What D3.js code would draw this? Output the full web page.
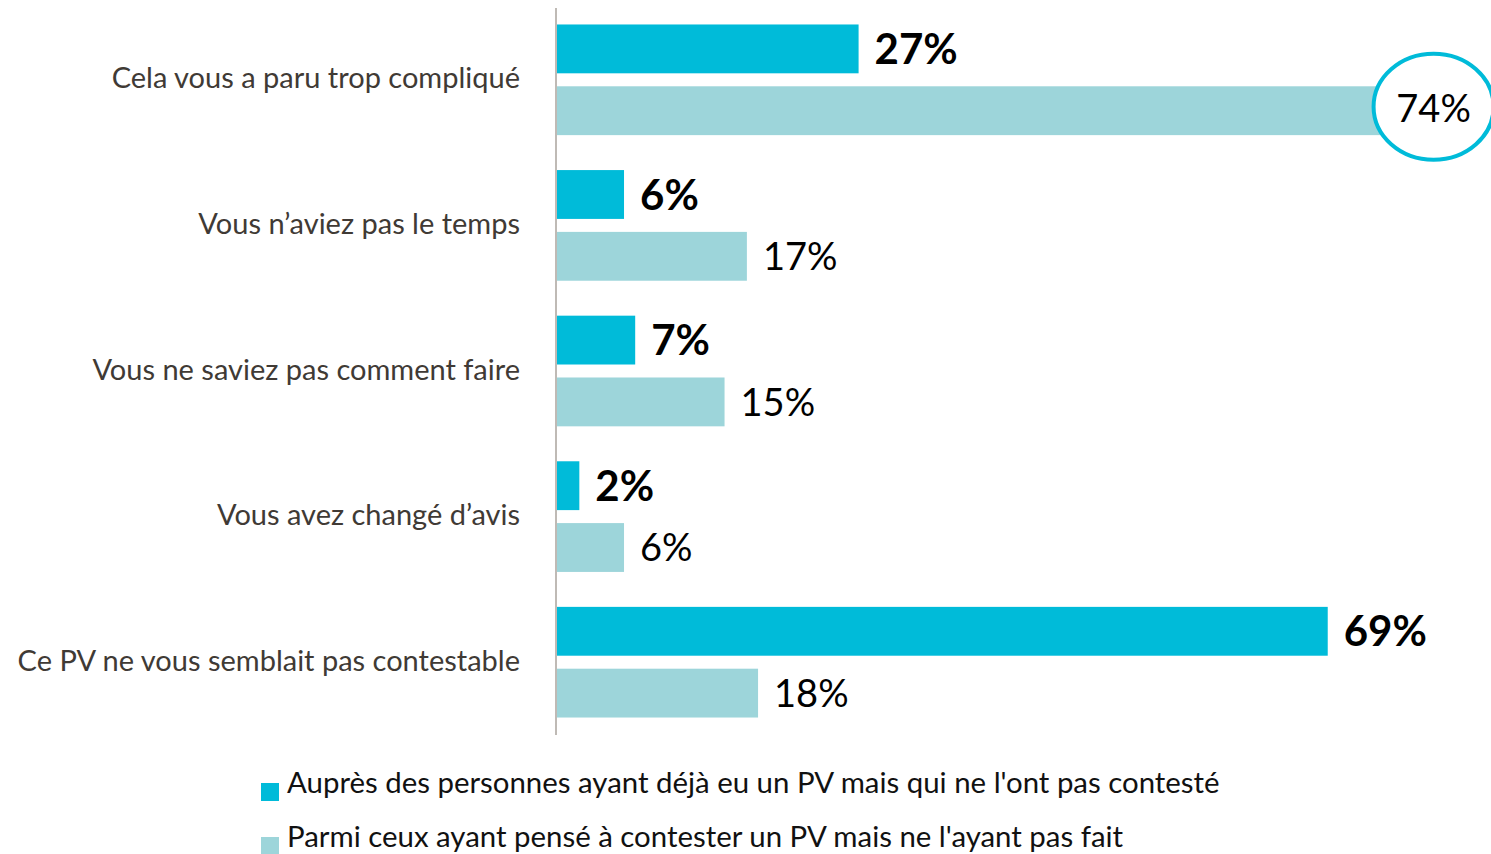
<!DOCTYPE html>
<html lang="fr">
<head>
<meta charset="UTF-8">
<title>Raisons de ne pas contester</title>
<script src="https://d3js.org/d3.v7.min.js"></script>
<style>
    body{
        margin: 0;
        background: #fff;
    }
    .cat{
        font-family: Lato, "Open Sans", sans-serif;
        font-size: 29px;
        fill: #403a35;
    }
    .val{
        font-family: Lato, "Open Sans", sans-serif;
        fill: #000;
    }
    .legendTxt{
        font-family: Lato, "Open Sans", sans-serif;
        font-size: 29.4px;
        fill: #111;
    }
</style>
</head>
<body>
<script>
var width = 1491;
var height = 854;

// données
var categories = [
    "Cela vous a paru trop compliqué",
    "Vous n’aviez pas le temps",
    "Vous ne saviez pas comment faire",
    "Vous avez changé d’avis",
    "Ce PV ne vous semblait pas contestable"
];
var seriesNames = [
    "Auprès des personnes ayant déjà eu un PV mais qui ne l'ont pas contesté",
    "Parmi ceux ayant pensé à contester un PV mais ne l'ayant pas fait"
];
var valuesA = [27, 6, 7, 2, 69];
var valuesB = [74, 17, 15, 6, 18];
var colors = ["#00bbd9", "#9dd5da"];
var highlight = 0; // index mis en avant (cercle) pour la série B

var svg = d3.select("body").append("svg")
    .attr("width", width)
    .attr("height", height);

// échelles
var x = d3.scaleLinear().domain([0, 100]).range([557, 1674]);
var y = d3.scaleBand().domain(categories).range([7, 735]).paddingInner(0.24).paddingOuter(0.12);
var ySub = d3.scaleBand().domain([0, 1]).range([0, y.bandwidth()]).paddingInner(0.21);

var rows = categories.map(function(c, i){
    return {cat: c, vals: [valuesA[i], valuesB[i]], idx: i};
});

// axe vertical
svg.append("line")
    .attr("x1", 556).attr("x2", 556)
    .attr("y1", 8).attr("y2", 735)
    .attr("stroke", "#bfbab5")
    .attr("stroke-width", 2);

var g = svg.selectAll(".row").data(rows).enter()
    .append("g").attr("class", "row")
    .attr("transform", function(d){ return "translate(0," + y(d.cat) + ")"; });

// libellés catégories
g.append("text")
    .attr("class", "cat")
    .attr("x", 520)
    .attr("y", y.bandwidth() / 2)
    .attr("dy", "0.3em")
    .attr("text-anchor", "end")
    .text(function(d){ return d.cat; });

var bars = g.selectAll(".bar")
    .data(function(d){ return d.vals.map(function(v, s){ return {v: v, s: s, idx: d.idx}; }); })
    .enter();

bars.append("rect")
    .attr("class", "bar")
    .attr("x", x(0))
    .attr("y", function(d){ return ySub(d.s); })
    .attr("width", function(d){ return x(d.v) - x(0); })
    .attr("height", ySub.bandwidth())
    .attr("fill", function(d){ return colors[d.s]; });

// étiquettes de valeurs (sauf la valeur entourée)
bars.filter(function(d){ return !(d.s === 1 && d.idx === highlight); })
    .append("text")
    .attr("class", "val")
    .attr("x", function(d){ return x(d.v) + 16; })
    .attr("y", function(d){ return ySub(d.s) + ySub.bandwidth() / 2; })
    .attr("dy", "0.36em")
    .attr("font-size", function(d){ return d.s === 0 ? 42 : 38; })
    .attr("font-weight", function(d){ return d.s === 0 ? "bold" : "normal"; })
    .text(function(d){ return d.v + "%"; });

// cercle de mise en avant
var hl = rows[highlight];
var cx = x(hl.vals[1]) + 50;
var cy = y(hl.cat) + ySub(1) + ySub.bandwidth() / 2 - 4;
svg.append("ellipse")
    .attr("cx", cx).attr("cy", cy)
    .attr("rx", 60).attr("ry", 53)
    .attr("fill", "#fff")
    .attr("stroke", colors[0])
    .attr("stroke-width", 4);

svg.append("text")
    .attr("class", "val")
    .attr("x", cx).attr("y", cy + 2).attr("dy", "0.36em")
    .attr("text-anchor", "middle")
    .attr("font-size", 38)
    .text(hl.vals[1] + "%");

// légende
var legend = svg.selectAll(".legend").data(seriesNames).enter()
    .append("g").attr("class", "legend")
    .attr("transform", function(d, i){ return "translate(261," + (783 + i * 54) + ")"; });

legend.append("rect")
    .attr("width", 18).attr("height", 18)
    .attr("fill", function(d, i){ return colors[i]; });

legend.append("text")
    .attr("class", "legendTxt")
    .attr("x", 26)
    .attr("y", 10)
    .text(function(d){ return d; });
</script>
</body>
</html>
